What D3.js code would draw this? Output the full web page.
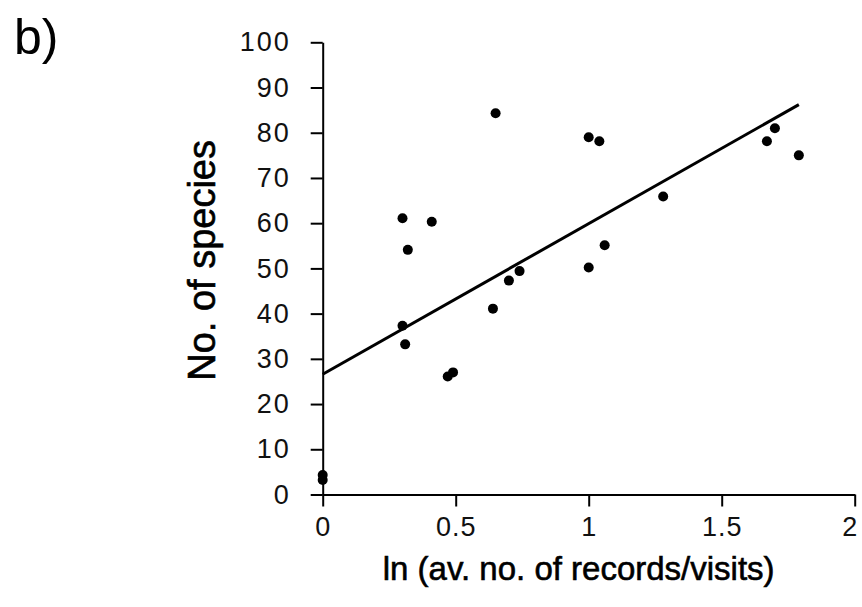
<!DOCTYPE html>
<html>
<head>
<meta charset="utf-8">
<script src="https://cdn.jsdelivr.net/npm/d3@7"></script>
<style>
  body { margin: 0; background: #fff; }
  .tick text { font-family: "Liberation Sans", Arial, sans-serif; font-size: 27px; letter-spacing: 2px; fill: #111; }
  .axis-title { font-family: "Liberation Sans", Arial, sans-serif; fill: #000; stroke: #000; stroke-width: 0.6px; }
</style>
</head>
<body>
<div id="chart"></div>
<script>
// Data
const lnRecords = [0, 0, 0.30, 0.41, 0.32, 0.30, 0.31, 0.47, 0.49, 0.64, 0.70, 0.74, 0.65, 1.00, 1.04, 1.06, 1.00, 1.28, 1.67, 1.70, 1.79];
const species   = [4.3, 3.2, 61.1, 60.3, 54.1, 37.3, 33.2, 26.1, 27.0, 41.1, 47.3, 49.4, 84.3, 79.0, 78.1, 55.1, 50.2, 65.9, 78.1, 81.0, 75.0];
const xTicks = [0, 0.5, 1, 1.5, 2];
const yTicks = [0, 10, 20, 30, 40, 50, 60, 70, 80, 90, 100];
const trendIntercept = 26.6;
const trendSlope = 33.3;

const width = 862, height = 607;
const plot = { left: 322.7, right: 854.7, top: 42.3, bottom: 494.5 };

const svg = d3.select("#chart")
  .append("svg")
  .attr("width", width)
  .attr("height", height);

const x = d3.scaleLinear().domain([0, 2]).range([plot.left, plot.right]);
const y = d3.scaleLinear().domain([0, 100]).range([plot.bottom, plot.top]);

// Axes
const xAxis = svg.append("g")
  .attr("transform", `translate(0,${plot.bottom})`)
  .call(d3.axisBottom(x).tickValues(xTicks).tickFormat(d => String(d))
    .tickSize(12).tickSizeOuter(0).tickPadding(10));

const yAxis = svg.append("g")
  .attr("transform", `translate(${plot.left},0)`)
  .call(d3.axisLeft(y).tickValues(yTicks).tickSize(12).tickSizeOuter(0).tickPadding(20));

[xAxis, yAxis].forEach(g => {
  g.selectAll("path, line").attr("stroke", "#000").attr("stroke-width", 2);
  g.attr("font-family", null).attr("font-size", null);
});

// keep the last x label inside the frame
xAxis.selectAll(".tick text")
  .style("letter-spacing", "1px")
  .attr("dx", d => d === 2 ? -5 : 0);

// Trend line
const xMax = d3.max(lnRecords);
svg.append("line")
  .attr("x1", x(0)).attr("y1", y(trendIntercept))
  .attr("x2", x(xMax)).attr("y2", y(trendIntercept + trendSlope * xMax))
  .attr("stroke", "#000")
  .attr("stroke-width", 3);

// Points
svg.selectAll("circle.dot")
  .data(lnRecords.map((v, i) => ({ x: v, y: species[i] })))
  .join("circle")
  .attr("class", "dot")
  .attr("cx", d => x(d.x))
  .attr("cy", d => y(d.y))
  .attr("r", 5)
  .attr("fill", "#000");

// Titles
svg.append("text")
  .attr("class", "axis-title")
  .attr("font-size", 33)
  .attr("x", (plot.left + plot.right) / 2 - 10)
  .attr("y", 580)
  .attr("text-anchor", "middle")
  .text("ln (av. no. of records/visits)");

svg.append("text")
  .attr("class", "axis-title")
  .attr("font-size", 38)
  .attr("transform", `translate(215,${(plot.top + plot.bottom) / 2 - 8}) rotate(-90)`)
  .attr("text-anchor", "middle")
  .text("No. of species");

svg.append("text")
  .attr("x", 14)
  .attr("y", 54)
  .attr("font-family", "Liberation Sans, Arial, sans-serif")
  .attr("font-size", 50)
  .text("b)");
</script>
</body>
</html>
